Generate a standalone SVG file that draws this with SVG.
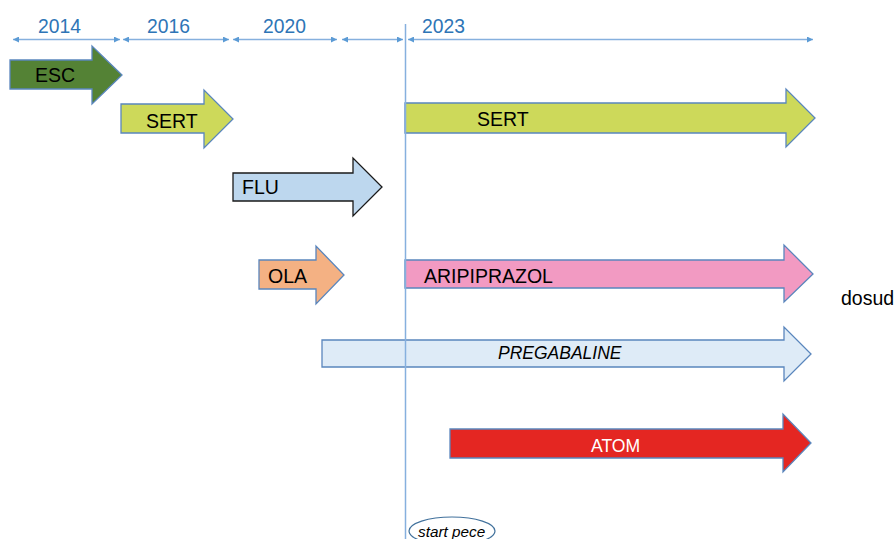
<svg xmlns="http://www.w3.org/2000/svg" width="894" height="539" viewBox="0 0 894 539">
<style>
.yr{font-family:"Liberation Sans",Arial,sans-serif;font-size:19.3px;fill:#2e75b6}
.lbl{font-family:"Liberation Sans",Arial,sans-serif;font-size:19.5px;fill:#000}
.it{font-family:"Liberation Sans",Arial,sans-serif;font-style:italic;fill:#000}
.arr{stroke:#5a86bd;stroke-width:1.3}
.tl{stroke:#86b0de;stroke-width:1.5;fill:none;marker-start:url(#h);marker-end:url(#h)}
</style>
<defs>
<marker id="h" viewBox="0 0 6 6" refX="6" refY="3" markerWidth="6" markerHeight="6" markerUnits="userSpaceOnUse" orient="auto-start-reverse">
<path d="M0,0 L6,3 L0,6 Z" fill="#5b9bd5"/>
</marker>
</defs>
<rect width="894" height="539" fill="#fff"/>
<g id="timeline">
<line class="tl" x1="13" y1="39.5" x2="120" y2="39.5"/>
<line class="tl" x1="123" y1="39.5" x2="229" y2="39.5"/>
<line class="tl" x1="233" y1="39.5" x2="337" y2="39.5"/>
<line class="tl" x1="342" y1="39.5" x2="403" y2="39.5"/>
<line class="tl" x1="408" y1="39.5" x2="813" y2="39.5"/>
<text class="yr" x="38" y="33">2014</text>
<text class="yr" x="147" y="33">2016</text>
<text class="yr" x="263" y="33">2020</text>
<text class="yr" x="422" y="33">2023</text>
</g>
<g id="esc">
<path class="arr" d="M10,60 H92 V46 L122,75 L92,104 V89 H10 Z" fill="#548235"/>
<text class="lbl" x="35" y="82">ESC</text>
</g>
<g id="sert1">
<path class="arr" d="M121,104 H204 V90 L233,119 L204,148 V133 H121 Z" fill="#cdd95a"/>
<text class="lbl" x="146" y="128">SERT</text>
</g>
<g id="sert2">
<path class="arr" d="M405,103 H786 V89 L815,118 L786,147 V133 H405 Z" fill="#cdd95a"/>
<text class="lbl" x="477" y="126">SERT</text>
</g>
<g id="flu">
<path d="M233,173 H353 V158 L382,187 L353,216 V201 H233 Z" fill="#bdd7ee" stroke="#1a1a1a" stroke-width="1.3"/>
<text class="lbl" x="242" y="194">FLU</text>
</g>
<g id="ola">
<path class="arr" d="M259,260 H316 V246 L344,275 L316,304 V289 H259 Z" fill="#f4b183"/>
<text class="lbl" x="268" y="283">OLA</text>
</g>
<g id="aripiprazol">
<path class="arr" d="M405,260 H784 V245 L813,274 L784,302 V288 H405 Z" fill="#f29ac2"/>
<text class="lbl" x="424" y="283">ARIPIPRAZOL</text>
</g>
<g id="pregabaline">
<path class="arr" d="M322,340 H784 V327 L811,354 L784,381 V367 H322 Z" fill="#deebf7"/>
<text class="it" x="498" y="359" style="font-size:17.5px">PREGABALINE</text>
</g>
<g id="atom">
<path class="arr" d="M450,429 H783 V414 L811,443 L783,472 V458 H450 Z" fill="#e42622"/>
<text class="lbl" x="591" y="452" style="fill:#fff;font-size:17.6px">ATOM</text>
</g>
<g id="dosud">
<text class="lbl" x="841" y="305">dosud</text>
</g>
<g id="start-line">
<line x1="405.5" y1="24" x2="405.5" y2="539" stroke="#86b0de" stroke-width="1.5"/>
</g>
<g id="start-pece">
<ellipse cx="452" cy="531" rx="43" ry="14" fill="#fff" stroke="#41719c" stroke-width="1.2"/>
<text class="it" x="418" y="537" style="font-size:15.3px">start pece</text>
</g>
</svg>
